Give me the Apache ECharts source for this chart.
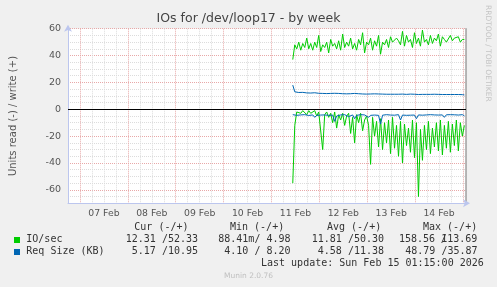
<!DOCTYPE html>
<html><head><meta charset="utf-8">
<script src="https://cdn.jsdelivr.net/npm/echarts@6/dist/echarts.min.js"></script>
<style>html,body{margin:0;padding:0;background:#f0f0f0}#c{width:497px;height:287px}</style>
</head><body><div id="c"></div>
<script>
// ---- data ----
const xLabels = ['07 Feb','08 Feb','09 Feb','10 Feb','11 Feb','12 Feb','13 Feb','14 Feb'];
const yTicks = [-60,-40,-20,0,20,40,60];
const startHour = 106.67;   // hours after 07 Feb 00:00 (first sample, 11 Feb ~10:40)
const stepHours = 1;
const ioWrite = [37,48,45,50,44,49,46,53,45,49,
  44,50,46,55,43,48,46,50,42,52,
  47,49,45,51,44,56,46,50,47,53,
  45,49,44,52,48,57,42,50,48,53,
  44,51,47,55,41,50,48,52,46,54,
  50,49,53,51,48,58,47,55,50,52,
  46,57,49,53,47,59,50,52,48,55,
  49,53,51,56,47,54,52,50,49,55,
  51,53,52,54,50,52,52];
const ioRead = [-55,-12,-2,-1,-3,-1,-2,-4,-1,-3,
  -2,-1,-5,-2,-3,-30,-4,-2,-6,-3,
  -10,-2,-14,-4,-8,-3,-12,-5,-3,-18,
  -6,-25,-4,-10,-3,-16,-8,-5,-12,-41,
  -6,-20,-9,-28,-7,-30,-10,-25,-8,-33,
  -6,-29,-12,-35,-9,-40,-11,-27,-14,-32,
  -8,-36,-10,-65,-15,-38,-12,-30,-9,-33,
  -14,-28,-10,-31,-8,-34,-12,-29,-9,-32,
  -11,-27,-8,-31,-10,-20,-12];
const reqWrite = [18,13,12.6,12.5,12.4,12.6,12.3,12.2,12.4,12.1,
  12.0,12.3,12.0,11.9,12.1,11.8,11.9,11.7,12.0,11.8,
  11.7,11.9,11.6,11.8,11.7,11.6,11.9,11.5,11.7,11.6,
  11.5,11.8,11.4,11.6,11.5,11.4,11.6,11.3,11.5,11.4,
  11.3,11.5,11.3,11.4,11.2,11.3,11.5,11.2,11.3,11.2,
  11.6,11.2,11.3,11.2,11.1,11.3,11.2,11.1,11.2,11.3,
  11.1,11.2,11.1,11.0,11.2,11.1,11.0,11.1,11.0,11.1,
  11.0,11.2,11.0,11.1,11.0,11.0,11.1,11.0,11.3,11.0,
  10.9,11.0,10.9,11.0,10.8,10.9,10.7];
const reqRead = [-4,-5,-4.5,-4,-4.2,-4.5,-4,-4.3,-4.6,-4,
  -4.2,-6,-4.5,-4,-4.3,-4.8,-4.2,-4,-4.5,-5,
  -4.3,-9,-5,-4.4,-4.2,-4.8,-4,-4.5,-5.5,-4.3,
  -4.2,-7,-4.5,-4.3,-4,-4.6,-4.2,-4.4,-6,-4.5,
  -4.2,-4.3,-4.1,-4.5,-11,-4.4,-4.2,-4,-4.6,-4.3,
  -4.1,-4.4,-4.2,-4,-8,-4.3,-4.1,-4.5,-4.2,-4.4,
  -4,-4.3,-7,-4.2,-4.1,-4.4,-4,-4.2,-4.3,-4,
  -4.5,-4.2,-4.1,-4.3,-4,-4.2,-6,-4.1,-4.3,-4,
  -4.2,-4.1,-4,-4.3,-4.1,-4,-4.8];
const legendHeader = ['Cur (-/+)','Min (-/+)','Avg (-/+)','Max (-/+)'];
const legendIO = ['12.31 /52.33','88.41m/ 4.98','11.81 /50.30'];
const legendIOMax = ['158.56 113.69','/'];
const legendReq = ['5.17 /10.95','4.10 / 8.20','4.58 /11.38','48.79 /35.87'];
const lastUpdate = 'Last update: Sun Feb 15 01:15:00 2026';

// ---- chart ----
function pairs(arr){ return arr.map((v,i)=>[startHour + i*stepHours, v]); }
const GREEN = '#00CC00', BLUE = '#0066B3';
const MINOR = '#dcdcdc', MAJOR = '#e8a8a8';
const mono = '10px "DejaVu Sans Mono", monospace';
const txtCol = '#333';
function t(text, x, y, extra){ return Object.assign({type:'text', x:x, y:y, silent:true,
  style:Object.assign({text:text, font:mono, fill:txtCol, verticalAlign:'middle'}, extra||{})}); }

const chart = echarts.init(document.getElementById('c'), null, {renderer:'canvas'});
const lineSeries = (name, data, color) => ({type:'line', name, data:pairs(data), showSymbol:false,
  symbol:'none', lineStyle:{color, width:1}, itemStyle:{color}, animation:false, silent:true});

chart.setOption({
  backgroundColor:'#f0f0f0',
  animation:false,
  title:{text:'IOs for /dev/loop17 - by week', left:'center', top:12, padding:0,
    textStyle:{fontFamily:'DejaVu Sans', fontSize:12.5, fontWeight:'normal', color:'#444'}},
  grid:{left:67, right:31, top:28.7, bottom:83.7, show:true, backgroundColor:'#ffffff', borderWidth:0},
  xAxis:{type:'value', min:-6, max:193.5, interval:6,
    axisLine:{show:true, onZero:false, lineStyle:{color:'#bcc6ee', width:1}, symbol:['none','arrow'], symbolSize:[6,7], symbolOffset:[0,4]},
    axisTick:{show:false},
    splitLine:{show:true, lineStyle:{type:'dotted', color:[MINOR, MAJOR, MINOR, MINOR], width:1}},
    axisLabel:{margin:6, fontFamily:'DejaVu Sans', fontSize:9.3, color:'#555', showMinLabel:true, showMaxLabel:true,
      formatter:v => { const k=(v-12)/24; return (Number.isInteger(k) && xLabels[k]) ? xLabels[k] : ''; }}},
  yAxis:[{type:'value', min:-70, max:60, interval:5,
    name:'Units read (-) / write (+)', nameLocation:'middle', nameGap:50,
    nameTextStyle:{fontFamily:'DejaVu Sans', fontSize:10, color:'#555'},
    axisLine:{show:true, onZero:false, lineStyle:{color:'#bcc6ee', width:1}, symbol:['none','arrow'], symbolSize:[6,7], symbolOffset:[0,4]},
    axisTick:{show:false},
    splitLine:{show:true, lineStyle:{type:'dotted', color:[MINOR, MINOR, MAJOR, MINOR], width:1}},
    axisLabel:{margin:7, fontFamily:'DejaVu Sans', fontSize:9.5, color:'#555',
      formatter:v => yTicks.includes(v) ? String(v) : ''}},
   {type:'value', min:-70, max:60, position:'right', show:true,
    axisLine:{show:true, onZero:false, lineStyle:{color:'#a0a0a0', width:1.5}}, axisTick:{show:false},
    axisLabel:{show:false}, splitLine:{show:false}}],
  series:[
    Object.assign(lineSeries('IO/sec write', ioWrite, GREEN), {
      markLine:{silent:true, symbol:'none', label:{show:false}, animation:false,
        lineStyle:{color:'#000', type:'solid', width:1.2}, data:[{yAxis:0}]}}),
    lineSeries('IO/sec read', ioRead, GREEN),
    lineSeries('Req Size write', reqWrite, BLUE),
    lineSeries('Req Size read', reqRead, BLUE)
  ],
  graphic:[
    {type:'text', x:492, y:5, rotation:-Math.PI/2, silent:true,
      style:{text:'RRDTOOL / TOBI OETIKER', font:'7.5px "DejaVu Sans", sans-serif', fill:'#c4c4c4'}},
    t(legendHeader[0], 134.3, 227.3), t(legendHeader[1], 230, 227.3),
    t(legendHeader[2], 327, 227.3), t(legendHeader[3], 423, 227.3),
    {type:'rect', shape:{x:14, y:237, width:6, height:6}, silent:true, style:{fill:GREEN}},
    {type:'rect', shape:{x:14, y:249, width:6, height:6}, silent:true, style:{fill:BLUE}},
    t('IO/sec', 26.3, 239.7),
    t(legendIO[0], 198, 239.7, {align:'right'}),
    t(legendIO[1], 290.5, 239.7, {align:'right'}),
    t(legendIO[2], 384, 239.7, {align:'right'}),
    t(legendIOMax[0], 399, 239.7), t(legendIOMax[1], 440.7, 239.7),
    t('Req Size (KB)', 26.3, 251.7),
    t(legendReq[0], 198, 251.7, {align:'right'}),
    t(legendReq[1], 290.5, 251.7, {align:'right'}),
    t(legendReq[2], 384, 251.7, {align:'right'}),
    t(legendReq[3], 477.5, 251.7, {align:'right'}),
    t(lastUpdate, 261, 263.5),
    {type:'text', x:248.5, y:276, silent:true,
      style:{text:'Munin 2.0.76', font:'7.5px "DejaVu Sans", sans-serif', fill:'#c0c0c0', align:'center', verticalAlign:'middle'}}
  ]
});
</script></body></html>
